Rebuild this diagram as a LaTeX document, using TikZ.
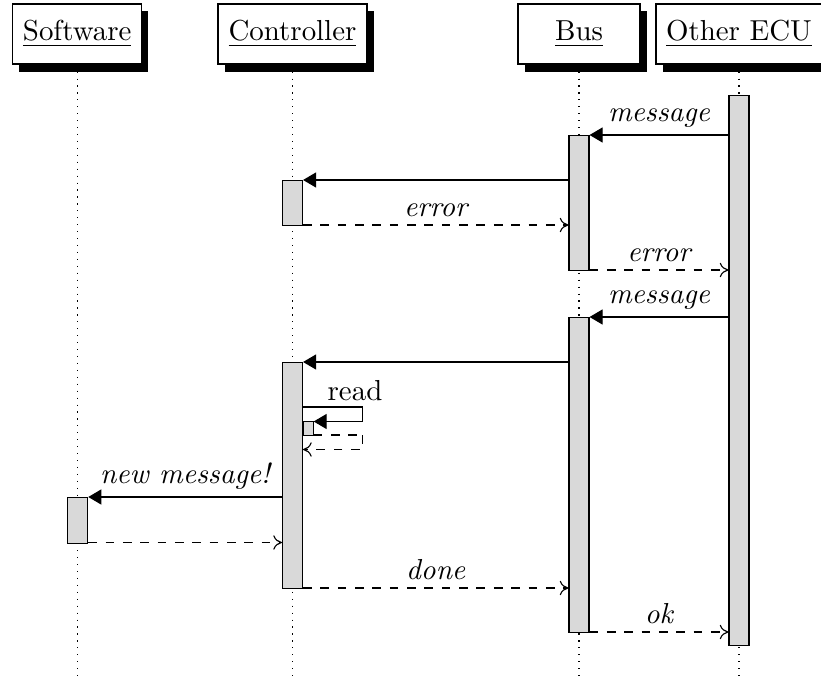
\documentclass[tikz,border=0pt]{standalone}
\usetikzlibrary{arrows.meta,shadows}

\tikzset{
  actor/.style={draw, fill=white, minimum height=20.8pt, inner sep=0pt,
    drop shadow={shadow xshift=2.3pt, shadow yshift=-2.6pt, fill=black, opacity=1}},
  lifeline/.style={dotted},
  bar/.style={draw, fill=black!15, minimum width=20*0.346pt, inner sep=0pt, anchor=north},
  subbar/.style={draw, fill=black!15, minimum width=10*0.346pt, inner sep=0pt, anchor=north west},
  callmsg/.style={-{Triangle[length=4.5pt,width=5.2pt]}},
  retmsg/.style={dashed, -{To[length=3pt,width=5pt]}},
  lbl/.style={font=\itshape, above, inner sep=2.5pt},
}

\begin{document}
\begin{tikzpicture}[x=0.346pt, y=-0.346pt]
  \useasboundingbox (0,0) rectangle (821,681);

  % participants
  \node[actor, minimum width=44.6pt] (sw)  at (77.2,34)  {\underline{Software}};
  \node[actor, minimum width=51.6pt] (ctl) at (292.5,34) {\underline{Controller}};
  \node[actor, minimum width=42.2pt] (bus) at (579,34)   {\underline{Bus}};
  \node[actor, minimum width=57.4pt] (ecu) at (739,34)   {\underline{Other ECU}};

  % lifelines
  \coordinate (bottom) at (0,681);
  \foreach \p in {sw,ctl,bus,ecu}
    \draw[lifeline] (\p.south) -- (\p.south |- bottom);

  % activation bars
  \node[bar, minimum height=550*0.346pt] (ecuA) at (739,95)  {};
  \node[bar, minimum height=135*0.346pt] (busA) at (579,135) {};
  \node[bar, minimum height=45*0.346pt]  (ctlA) at (292.5,180) {};
  \node[bar, minimum height=315*0.346pt] (busB) at (579,317) {};
  \node[bar, minimum height=226*0.346pt] (ctlB) at (292.5,362) {};
  \node[bar, minimum height=46*0.346pt]  (swA)  at (77.7,497) {};
  \node[subbar, minimum height=14*0.346pt] (ctlC) at (302.5,421) {};

  % message heights
  \coordinate (y1) at (0,135);
  \coordinate (y2) at (0,180);
  \coordinate (y3) at (0,225);
  \coordinate (y4) at (0,270);
  \coordinate (y5) at (0,317);
  \coordinate (y6) at (0,362);
  \coordinate (y8) at (0,497);
  \coordinate (y9) at (0,542.5);
  \coordinate (y10) at (0,588);
  \coordinate (y11) at (0,632);

  % first exchange
  \draw[callmsg] (ecuA.west |- y1) -- node[lbl] {message} (busA.east |- y1);
  \draw[callmsg] (busA.west |- y2) -- (ctlA.east |- y2);
  \draw[retmsg] (ctlA.east |- y3) -- node[lbl] {error} (busA.west |- y3);
  \draw[retmsg] (busA.east |- y4) -- node[lbl] {error} (ecuA.west |- y4);

  % second exchange
  \draw[callmsg] (ecuA.west |- y5) -- node[lbl] {message} (busB.east |- y5);
  \draw[callmsg] (busB.west |- y6) -- (ctlB.east |- y6);

  % self call: read
  \coordinate (r1) at (362.5,407);
  \coordinate (r2) at (362.5,421.5);
  \coordinate (r3) at (362.5,435);
  \coordinate (r4) at (362.5,449.5);
  \draw (ctlB.east |- r1) -- (r1);
  \draw[callmsg] (r1) -- (r2) -- (ctlC.east |- r2);
  \node[anchor=south, inner sep=2pt] (readlbl) at (355,407) {read};
  \draw[dashed] (ctlC.east |- r3) -- (r3);
  \draw[retmsg] (r3) -- (r4) -- (ctlB.east |- r4);

  % notify software
  \draw[callmsg] (ctlB.west |- y8) -- node[lbl] {new message!} (swA.east |- y8);
  \draw[retmsg] (swA.east |- y9) -- (ctlB.west |- y9);

  % completion
  \draw[retmsg] (ctlB.east |- y10) -- node[lbl] {done} (busB.west |- y10);
  \draw[retmsg] (busB.east |- y11) -- node[lbl] {ok} (ecuA.west |- y11);
\end{tikzpicture}
\end{document}
